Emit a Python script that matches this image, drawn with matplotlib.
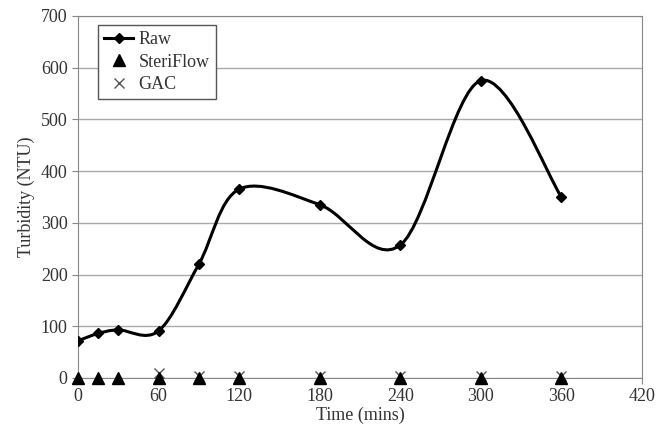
import matplotlib
matplotlib.use("Agg")
import matplotlib.pyplot as plt
from matplotlib.path import Path
from matplotlib.patches import PathPatch
from matplotlib.lines import Line2D

plt.rcParams['font.family'] = ['Liberation Serif', 'DejaVu Serif']

time_raw = [0, 15, 30, 60, 90, 120, 180, 240, 300, 360]
raw = [72, 86, 93, 91, 220, 365, 335, 257, 575, 350]
time_steri = [0, 15, 30, 60, 90, 120, 180, 240, 300, 360]
steri = [0, 0, 0, 0, 0, 0, 0, 0, 0, 0]
time_gac = [60, 90, 120, 180, 240, 300, 360]
gac = [10, 3, 3, 3, 3, 3, 3]


def smooth_path(xs, ys, t=1 / 6):
    # Excel-style smoothed line as cubic bezier segments
    verts = [(xs[0], ys[0])]
    codes = [Path.MOVETO]
    n = len(xs)
    for i in range(n - 1):
        x0, y0 = (xs[i - 1], ys[i - 1]) if i > 0 else (xs[i], ys[i])
        x1, y1 = xs[i], ys[i]
        x2, y2 = xs[i + 1], ys[i + 1]
        x3, y3 = (xs[i + 2], ys[i + 2]) if i + 2 < n else (x2, y2)
        c1 = (x1 + (x2 - x0) * t, y1 + (y2 - y0) * t)
        c2 = (x2 - (x3 - x1) * t, y2 - (y3 - y1) * t)
        verts += [c1, c2, (x2, y2)]
        codes += [Path.CURVE4] * 3
    return Path(verts, codes)


fig = plt.figure(figsize=(6.67, 4.30), dpi=100)
ax = fig.add_axes([0.117, 0.121, 0.8455, 0.842])

ax.add_patch(PathPatch(smooth_path(time_raw, raw), fill=False, lw=2.2, color='black', zorder=3))
ax.plot(time_raw, raw, ls='none', marker='D', ms=5.5, color='black', zorder=4)
ax.plot(time_steri, steri, ls='none', marker='^', ms=8, color='black', zorder=4, clip_on=False)
ax.plot(time_gac, gac, ls='none', marker='x', ms=7, mew=1, color='#555555', zorder=3, clip_on=False)

ax.set_xlim(0, 420)
ax.set_ylim(0, 700)
ax.set_xticks(range(0, 421, 60))
ax.set_yticks(range(0, 701, 100))
ax.yaxis.grid(True, color='#aaaaaa', lw=1)
ax.set_axisbelow(True)
for s in ax.spines.values():
    s.set_color('#888888')
ax.tick_params(colors='#888888', labelcolor='#333333', labelsize=13, length=4)
ax.set_xlabel('Time (mins)', fontsize=13, color='#333333', labelpad=1)
ax.set_ylabel('Turbidity (NTU)', fontsize=13, color='#333333', labelpad=4)

handles = [
    Line2D([], [], color='black', lw=2.2, marker='D', ms=5.5),
    Line2D([], [], color='black', ls='none', marker='^', ms=8),
    Line2D([], [], color='#555555', ls='none', marker='x', ms=7),
]
leg = ax.legend(handles, ['Raw', 'SteriFlow', 'GAC'], loc='upper left',
                bbox_to_anchor=(0.035, 0.975), borderaxespad=0,
                fancybox=False, framealpha=1,
                edgecolor='#555555', fontsize=13, handlelength=1.6,
                handletextpad=0.3, borderpad=0.35, labelspacing=0.3)
leg.get_frame().set_linewidth(1)
for t in leg.get_texts():
    t.set_color('#333333')

fig.savefig('out.png')
